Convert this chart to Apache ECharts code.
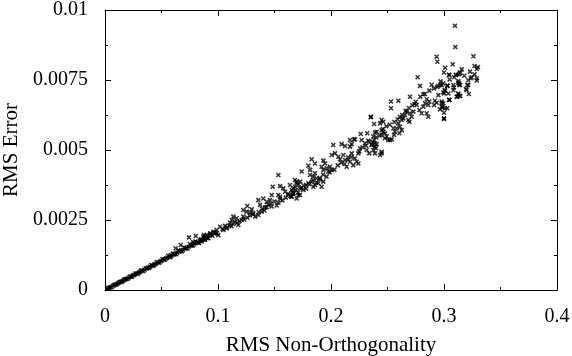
<!DOCTYPE html>
<html><head><meta charset="utf-8">
<script src="https://cdn.jsdelivr.net/npm/echarts@6/dist/echarts.min.js"></script>
<style>html,body{margin:0;padding:0;background:#fff}#c{width:572px;height:356px}</style>
</head><body><div id="c"></div>
<script>
var xTicks = [0, 0.1, 0.2, 0.3, 0.4];
var yTicks = [0, 0.0025, 0.005, 0.0075, 0.01];
var xName = 'RMS Non-Orthogonality';
var yName = 'RMS Error';

var nonOrth = [
0.002,0.004,0.005,0.007,0.009,0.011,0.012,0.014,0.016,0.018,0.019,0.021,0.023,0.025,0.026,0.028,0.030,0.031,0.033,0.035,
0.037,0.038,0.040,0.042,0.044,0.045,0.047,0.049,0.050,0.052,0.054,0.055,0.057,0.059,0.061,0.062,0.064,0.066,0.067,0.069,
0.071,0.072,0.074,0.076,0.077,0.079,0.081,0.082,0.084,0.086,0.0743,0.0803,0.0847,0.0876,0.0935,0.0625,0.067,0.058,0.078,0.090,
0.003,0.006,0.008,0.010,0.013,0.015,0.017,0.020,0.022,0.024,0.027,0.029,0.032,0.034,0.036,0.039,0.041,0.043,0.046,0.048,
0.051,0.053,0.056,0.058,0.060,0.063,0.065,0.068,0.070,0.073,0.075,0.078,0.080,0.083,0.085,0.088,0.089,0.091,0.093,0.095,0.097,0.099,
0.1018,0.1062,0.1077,0.1047,0.0988,0.0959,0.1003,0.0973,0.0929,0.0900,0.0870,0.0885,0.0856,0.0914,
0.1136,0.1165,0.1121,0.1150,0.1136,0.1106,0.1210,0.1224,0.1180,
0.1259,0.1224,0.1254,0.1298,0.1313,0.1357,0.1283,0.1387,
0.1357,0.1401,0.1431,0.1460,0.1445,0.1475,0.1416,0.1534,0.1372,
0.1475,0.1534,0.1549,0.1593,0.1622,0.1652,0.1667,0.1726,0.1696,0.1755,
0.1534,0.1484,0.1549,0.1578,0.1637,0.1667,0.1696,0.1726,0.1779,0.1799,
0.1681,0.1696,0.1711,0.1681,0.1726,0.1652,0.1667,0.1711,0.1652,
0.1814,0.1844,0.1858,0.1873,0.1903,0.1829,0.1932,0.1888,0.1858,0.1917,0.1844,
0.1932,0.1947,0.1917,0.1962,0.1932,0.1991,0.1976,0.2006,
0.1829,0.1858,0.1741,0.1799,0.1814,
0.2227,0.2242,0.2197,0.2139,
0.2006,0.2035,0.2065,0.2109,0.2080,0.2124,0.2153,0.2183,0.2168,
0.2257,0.2316,0.2339,0.2242,0.2389,0.2434,0.2448,
0.2020,0.2094,0.2124,0.2168,0.2183,
0.2212,0.2271,0.2301,0.2330,0.2360,0.2389,0.2404,
0.2263,0.2321,0.2389,0.2168,0.2204,0.2351,
0.2375,0.2381,0.2389,0.2360,0.2375,0.2398,0.2448,
0.2493,0.2507,0.2522,0.2537,0.2478,
0.2448,0.2463,0.2478,0.2448,0.2404,
0.2448,0.2463,0.2434,0.2381,0.2354,
0.2552,0.2566,0.2558,
0.2596,0.2610,0.2581,0.2626,0.2605,
0.2610,0.2626,0.2640,0.2684,0.2693,
0.2655,0.2670,0.2699,0.2714,0.2729,
0.2847,0.2861,0.2758,0.2782,0.2802,0.3000,
0.2980,0.2988,0.2965,0.3047,
0.2847,0.2870,0.2832,0.2861,0.2817,0.2920,0.2912,0.2935,
0.2531,0.2596,0.2531,0.2737,0.2699,0.2817,
0.3127,0.3118,0.3142,0.2950,0.3010,0.3000,
0.3206,0.3200,0.3127,0.3136,0.3030,0.2950,0.2980,0.2891,0.2788,
0.2767,0.3044,0.3106,0.3142,
0.3097,0.3100,0.3260,0.3077,0.3010,0.3270,0.3300,0.3290,0.3157,0.3140,0.3130,0.3000,0.3047,0.3106,
0.3245,0.3236,0.3290,0.3290,0.3215,0.3127,0.3133,0.3142,0.2994,0.2970,0.3030,0.3083,0.3088,0.3083,
0.3215,0.3195,0.3006,0.2994,0.3038,0.3220,0.3127,0.3142,0.3112,0.3047,0.2980,0.2994,0.2980,0.3009,
0.3029,0.3000,0.3000,0.2935,0.2941,
0.104,0.108,0.110,0.112,0.117,0.119,0.123,0.126,0.128,0.131,0.133,0.136,0.139,0.141,0.143,0.147,0.150,0.152,0.155,0.157,
0.160,0.162,0.164,0.166,0.169,0.171,0.174,0.176,0.178,0.181,0.184,0.187,0.190,0.193,0.196,0.199,0.203,0.206,0.209,0.212,
0.215,0.218,0.221,0.225,0.228,0.231,0.234,0.237,0.240,0.243,0.246,0.249,0.252,0.256,0.259,0.263,0.266,0.269,0.272,0.275,
0.279,0.283,0.287,0.291,0.294,0.297,0.305,0.309,0.318,0.323,0.327
];
var rmsError = [
0.000040,0.000085,0.000100,0.000150,0.000185,0.000225,0.000255,0.000290,0.000330,0.000380,0.000395,0.000440,0.000475,0.000525,0.000540,0.000585,0.000620,0.000650,0.000690,0.000725,
0.000770,0.000795,0.000835,0.000870,0.000915,0.000940,0.000980,0.001015,0.001045,0.001085,0.001125,0.001150,0.001180,0.001230,0.001265,0.001290,0.001335,0.001370,0.001400,0.001430,
0.001475,0.001500,0.001545,0.001580,0.001600,0.001645,0.001685,0.001700,0.001745,0.001790,0.001880,0.001930,0.001790,0.001960,0.002020,0.001490,0.001610,0.001230,0.001710,0.001860,
0.000070,0.000110,0.000175,0.000195,0.000285,0.000300,0.000370,0.000400,0.000480,0.000480,0.000590,0.000580,0.000700,0.000680,0.000780,0.000790,0.000890,0.000870,0.000990,0.000970,
0.001110,0.001080,0.001220,0.001170,0.001300,0.001280,0.001420,0.001380,0.001520,0.001480,0.001640,0.001590,0.001730,0.001680,0.001800,0.001800,0.001900,0.001860,0.001960,0.001940,0.002050,0.002030,
0.00226,0.00229,0.00220,0.00214,0.00214,0.00208,0.00196,0.00202,0.00202,0.00196,0.00190,0.00179,0.00173,0.00185,
0.00262,0.00256,0.00250,0.00244,0.00236,0.00240,0.00250,0.00262,0.00232,
0.00300,0.00286,0.00280,0.00288,0.00274,0.00268,0.00276,0.00280,
0.00321,0.00327,0.00315,0.00321,0.00304,0.00298,0.00295,0.00312,0.00304,
0.00339,0.00339,0.00333,0.00351,0.00339,0.00333,0.00345,0.00339,0.00327,0.00357,
0.00411,0.00369,0.00371,0.00363,0.00375,0.00363,0.00381,0.00387,0.00375,0.00381,
0.00393,0.00387,0.00375,0.00369,0.00363,0.00357,0.00345,0.00339,0.00333,
0.00411,0.00405,0.00417,0.00399,0.00395,0.00387,0.00387,0.00381,0.00375,0.00369,0.00369,
0.00462,0.00452,0.00440,0.00435,0.00429,0.00440,0.00423,0.00429,
0.00467,0.00452,0.00423,0.00444,0.00429,
0.00458,0.00452,0.00446,0.00440,
0.00482,0.00488,0.00476,0.00482,0.00467,0.00464,0.00474,0.00488,0.00458,
0.00506,0.00500,0.00488,0.00488,0.00488,0.00482,0.00494,
0.00518,0.00521,0.00514,0.00512,0.00521,
0.00538,0.00536,0.00524,0.00533,0.00518,0.00512,0.00521,
0.00557,0.00560,0.00562,0.00536,0.00538,0.00617,
0.00548,0.00536,0.00524,0.00518,0.00500,0.00506,0.00488,
0.00548,0.00536,0.00536,0.00538,0.00542,
0.00571,0.00565,0.00560,0.00554,0.00565,
0.00607,0.00601,0.00595,0.00593,0.00619,
0.00578,0.00565,0.00554,
0.00595,0.00583,0.00578,0.00571,0.00560,
0.00619,0.00607,0.00613,0.00607,0.00601,
0.00625,0.00637,0.00631,0.00619,0.00637,
0.00631,0.00619,0.00661,0.00643,0.00631,0.00613,
0.00667,0.00652,0.00645,0.00679,
0.00681,0.00673,0.00667,0.00661,0.00655,0.00676,0.00661,0.00669,
0.00673,0.00676,0.00649,0.00664,0.00690,0.00699,
0.00702,0.00690,0.00693,0.00696,0.00712,0.00702,
0.00732,0.00714,0.00740,0.00732,0.00729,0.00729,0.00732,0.00733,0.00729,
0.00760,0.00769,0.00769,0.00774,
0.00944,0.00868,0.00835,0.00806,0.00794,0.00800,0.00796,0.00789,0.00788,0.00777,0.00770,0.00777,0.00768,0.00768,
0.00760,0.00756,0.00756,0.00748,0.00749,0.00746,0.00738,0.00732,0.00738,0.00732,0.00730,0.00732,0.00723,0.00714,
0.00732,0.00718,0.00714,0.00706,0.00702,0.00700,0.00699,0.00693,0.00690,0.00679,0.00673,0.00667,0.00655,0.00649,
0.00649,0.00633,0.00611,0.00833,0.00815,
0.00218,0.00224,0.00230,0.00228,0.00240,0.00246,0.00252,0.00258,0.00266,0.00270,0.00262,0.00278,0.00290,0.00284,0.00296,0.00308,0.00316,0.00302,0.00326,0.00320,
0.00330,0.00344,0.00336,0.00350,0.00356,0.00348,0.00366,0.00372,0.00362,0.00378,0.00392,0.00385,0.00400,0.00412,0.00405,0.00420,0.00430,0.00445,0.00455,0.00450,
0.00465,0.00475,0.00470,0.00495,0.00510,0.00515,0.00530,0.00528,0.00545,0.00552,0.00575,0.00585,0.00590,0.00600,0.00610,0.00625,0.00640,0.00650,0.00660,0.00672,
0.00690,0.00700,0.00712,0.00720,0.00725,0.00745,0.00752,0.00760,0.00765,0.00780,0.00770
];

var pts = nonOrth.map(function (x, i) { return [x, rmsError[i]]; });
var font = '"Liberation Serif", "DejaVu Serif", serif';
var chart = echarts.init(document.getElementById('c'), null, {renderer: 'canvas'});
var axisCommon = {
  axisLine: {show: true, onZero: false, lineStyle: {color: '#000', width: 1}},
  axisTick: {show: true, inside: true, length: 6, lineStyle: {color: '#000'}},
  minorTick: {show: true, splitNumber: 2, length: 3, lineStyle: {color: '#000'}},
  splitLine: {show: false}
};
chart.setOption({
  animation: false,
  backgroundColor: '#fff',
  grid: {left: 105, right: 15, top: 10, bottom: 66, containLabel: false, outerBoundsMode: 'none'},
  xAxis: [
    Object.assign({}, axisCommon, {
      type: 'value', min: xTicks[0], max: xTicks[xTicks.length - 1], interval: xTicks[1] - xTicks[0],
      position: 'bottom',
      name: xName, nameLocation: 'middle', nameGap: 45,
      nameTextStyle: {fontFamily: font, fontSize: 21, color: '#000'},
      axisLabel: {margin: 17, fontFamily: font, fontSize: 20, color: '#000',
        formatter: function (v) { return String(+v.toFixed(4)); }}
    }),
    Object.assign({}, axisCommon, {
      type: 'value', min: xTicks[0], max: xTicks[xTicks.length - 1], interval: xTicks[1] - xTicks[0],
      position: 'top', axisLabel: {show: false}
    })
  ],
  yAxis: [
    Object.assign({}, axisCommon, {
      type: 'value', min: yTicks[0], max: yTicks[yTicks.length - 1], interval: yTicks[1] - yTicks[0],
      position: 'left',
      name: yName, nameLocation: 'middle', nameGap: 82,
      nameTextStyle: {fontFamily: font, fontSize: 21, color: '#000'},
      axisLabel: {margin: 17, fontFamily: font, fontSize: 20, color: '#000',
        formatter: function (v) { return String(+v.toFixed(5)); }}
    }),
    Object.assign({}, axisCommon, {
      type: 'value', min: yTicks[0], max: yTicks[yTicks.length - 1], interval: yTicks[1] - yTicks[0],
      position: 'right', axisLabel: {show: false}
    })
  ],
  series: [{
    type: 'scatter',
    xAxisIndex: 0, yAxisIndex: 0,
    data: pts,
    symbol: 'path://M0,0L10,10M10,0L0,10',
    symbolSize: 4,
    itemStyle: {color: 'rgba(0,0,0,0)', borderColor: '#000', borderWidth: 1.5},
    silent: true
  }]
});
</script></body></html>
